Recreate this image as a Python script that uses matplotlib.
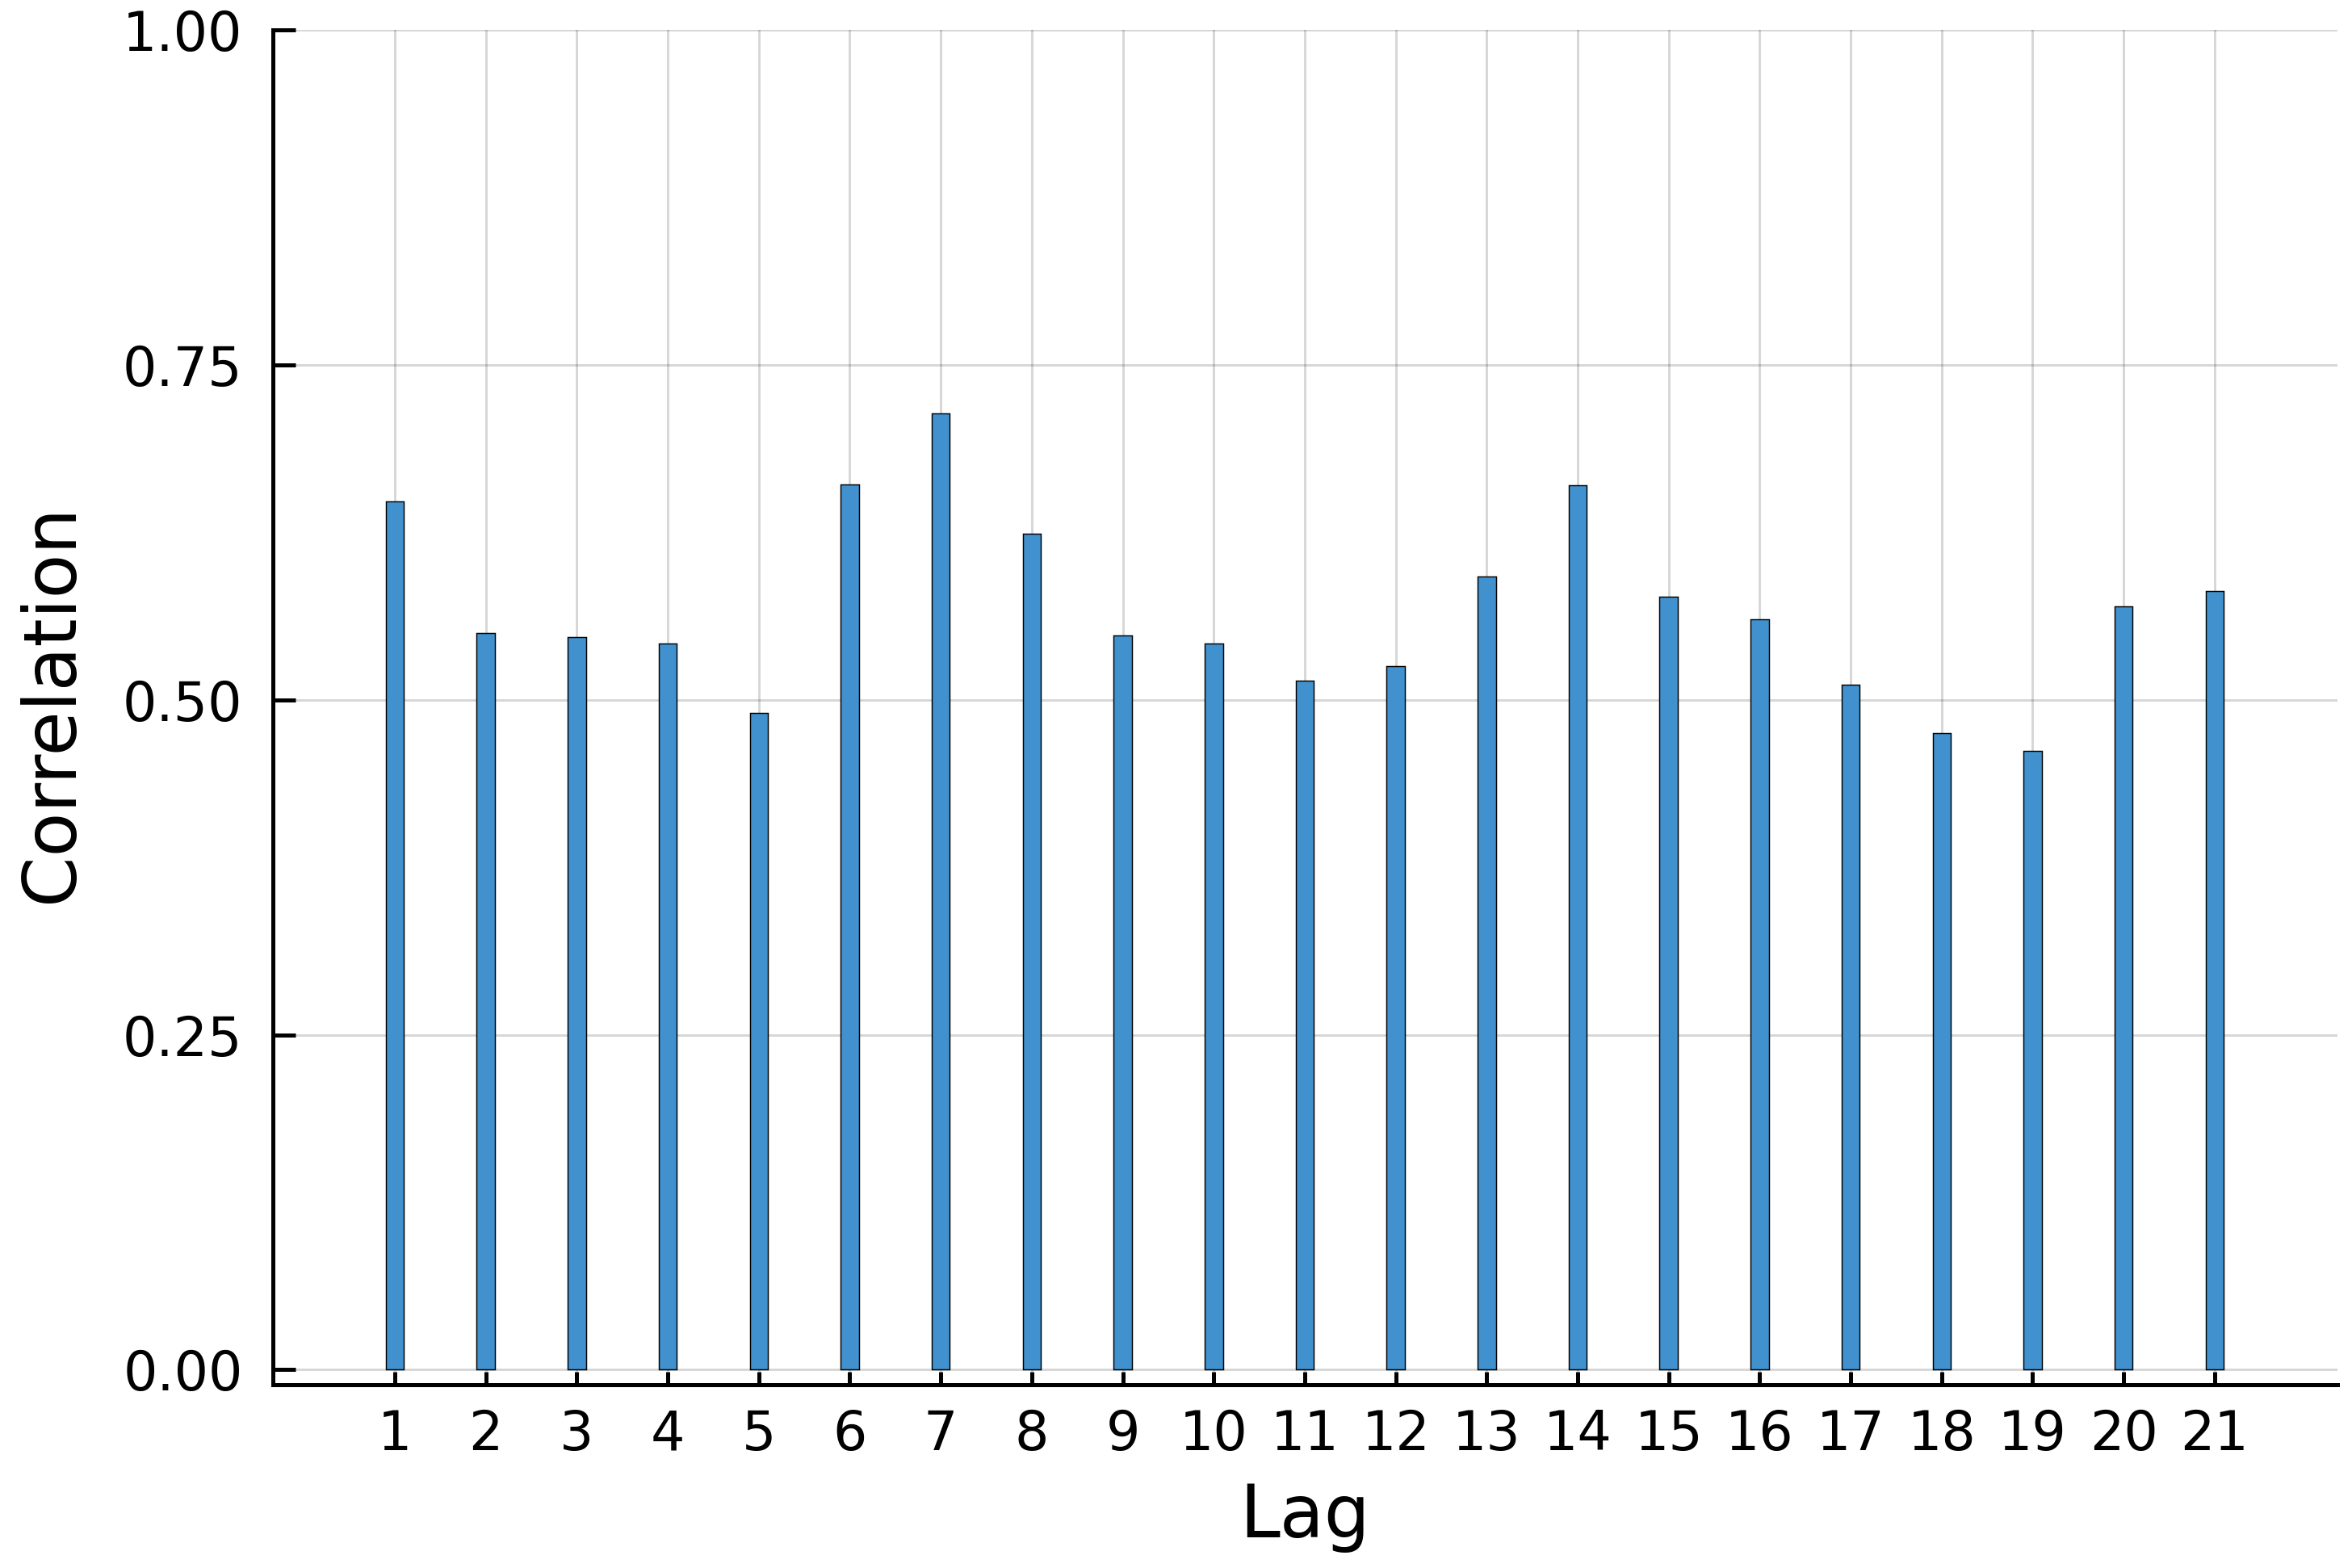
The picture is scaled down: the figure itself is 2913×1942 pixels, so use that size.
import matplotlib
matplotlib.use("Agg")
import matplotlib.pyplot as plt
import numpy as np

lags = list(range(1, 22))
correlation = [0.648, 0.550, 0.547, 0.542, 0.490, 0.661, 0.714, 0.624, 0.548, 0.542,
               0.514, 0.525, 0.592, 0.660, 0.577, 0.560, 0.511, 0.475, 0.462, 0.570, 0.581]
yticks = [0.0, 0.25, 0.50, 0.75, 1.00]
ytick_labels = ["0.00", "0.25", "0.50", "0.75", "1.00"]

plt.rcParams['font.family'] = ['DejaVu Sans']

fig = plt.figure(figsize=(2913/300, 1942/300), dpi=300)
ax = fig.add_axes([338/2913, 1 - 1715/1942, (2895-338)/2913, (1715-37)/1942])

ax.bar(lags, correlation, width=0.2, color='#4191CE', edgecolor='black', linewidth=0.35, zorder=3)

ax.set_xlim(-0.34, 22.35)
ax.set_ylim(-0.0112, 1.0)
ax.set_xticks(lags)
ax.set_xticklabels([str(l) for l in lags])
ax.set_yticks(yticks)
ax.set_yticklabels(ytick_labels)

ax.grid(True, color='black', alpha=0.16, linewidth=0.7, zorder=0)
ax.set_axisbelow(True)

for s in ['top', 'right']:
    ax.spines[s].set_visible(False)
for s in ['left', 'bottom']:
    ax.spines[s].set_linewidth(1.2)
    ax.spines[s].set_zorder(5)

ax.tick_params(axis='x', direction='in', length=3.8, width=1.2, labelsize=16, pad=7)
ax.tick_params(axis='y', direction='in', length=6.8, width=1.2, labelsize=16, pad=9)

ax.set_xlabel("Lag", fontsize=21.5)
ax.xaxis.label.set_va('center')
ax.xaxis.set_label_coords(0.5, -0.098)
ax.set_ylabel("Correlation", fontsize=21.5)
ax.yaxis.label.set_va('center')
ax.yaxis.set_label_coords(-0.1068, 0.503)

fig.savefig("out.png", dpi=300)
